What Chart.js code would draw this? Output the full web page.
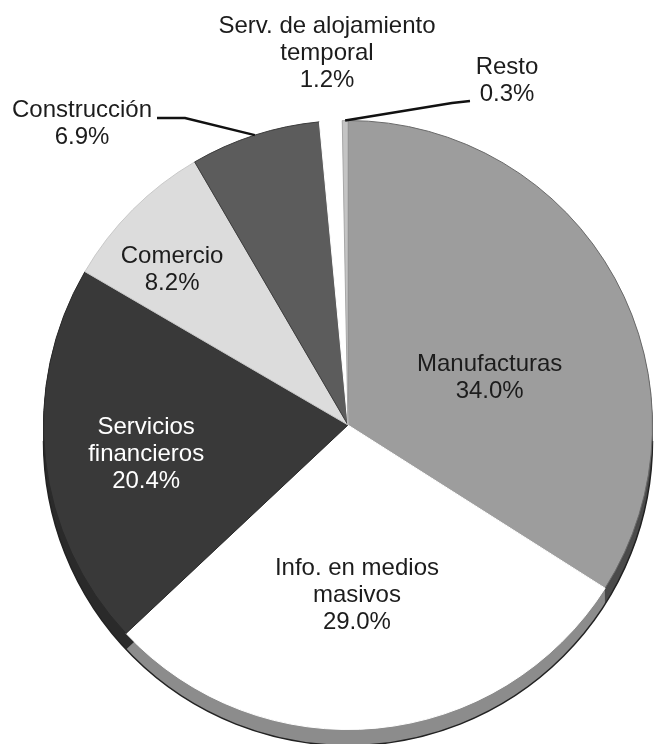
<!DOCTYPE html>
<html>
<head>
<meta charset="utf-8">
<script src="https://cdn.jsdelivr.net/npm/chart.js@4.4.1/dist/chart.umd.min.js"></script>
<style>
  html, body { margin: 0; padding: 0; background: #fff; }
  #wrap { width: 659px; height: 744px; }
</style>
</head>
<body>
<div id="wrap"><canvas id="pieChart" width="659" height="744"></canvas></div>
<script>
// data, clockwise from 12 o'clock
const sectors = ['Manufacturas', 'Info. en medios masivos', 'Servicios financieros', 'Comercio',
                 'Construcción', 'Serv. de alojamiento temporal', 'Resto'];
const shares = [34.0, 29.0, 20.4, 8.2, 6.9, 1.2, 0.3];
const labelLines = [['Manufacturas'], ['Info. en medios', 'masivos'], ['Servicios', 'financieros'],
                    ['Comercio'], ['Construcción'], ['Serv. de alojamiento', 'temporal'], ['Resto']];

// styling
const faceColors = ['#9d9d9d', '#ffffff', '#393939', '#dcdcdc', '#5c5c5c', '#ffffff', '#c4c4c4'];
const edgeColors = ['#6a6a6a', '#ffffff', '#2a2a2a', '#c8c8c8', '#3c3c3c', '#ffffff', '#a8a8a8'];
const sideColors = ['#4a4a4a', '#8c8c8c', '#2a2a2a', '#999999', '#3c3c3c', '#bbbbbb', '#888888'];
const textColors = ['#1c1c1c', '#1c1c1c', '#ffffff', '#1c1c1c', '#1c1c1c', '#1c1c1c', '#1c1c1c'];
const DEPTH = 16;
const FONT = '24px "Liberation Sans", Arial, sans-serif';
const LINE_H = 27;

// where each label goes: inside labels are polar (angle shift in deg, radius fraction),
// outside ones get a text centre and a leader line bend
const labelPlace = [
  { shift: 10.5, frac: 0.49 },
  { shift: 2.4, frac: 0.56 },
  { shift: -1.9, frac: 0.67 },
  { shift: -3.6, frac: 0.77 },
  { text: [82, 124], line: [[185, 118], [157, 118]] },
  { text: [327, 53] },
  { text: [507, 81], line: [[452, 103], [470, 101]] }
];

const depthPlugin = {
  id: 'depth',
  beforeDatasetsDraw(chart) {
    const ctx = chart.ctx;
    const arcs = chart.getDatasetMeta(0).data;
    ctx.save();
    arcs.forEach((arc, i) => {
      const p = arc.getProps(['x', 'y', 'startAngle', 'endAngle', 'outerRadius'], true);
      ctx.fillStyle = sideColors[i];
      for (let d = 1; d <= DEPTH; d++) {
        ctx.beginPath();
        ctx.moveTo(p.x, p.y + d);
        ctx.arc(p.x, p.y + d, p.outerRadius, p.startAngle, p.endAngle);
        ctx.closePath();
        ctx.fill();
      }
    });
    const p0 = arcs[0].getProps(['x', 'y', 'outerRadius'], true);
    ctx.strokeStyle = '#222';
    ctx.lineWidth = 1.5;
    ctx.beginPath();
    ctx.arc(p0.x, p0.y + DEPTH, p0.outerRadius, 0, Math.PI);
    ctx.stroke();
    ctx.restore();
  }
};

const labelPlugin = {
  id: 'sliceLabels',
  afterDatasetsDraw(chart) {
    const ctx = chart.ctx;
    const arcs = chart.getDatasetMeta(0).data;
    ctx.save();
    ctx.font = FONT;
    ctx.textAlign = 'center';
    ctx.textBaseline = 'middle';
    arcs.forEach((arc, i) => {
      const p = arc.getProps(['x', 'y', 'startAngle', 'endAngle', 'outerRadius'], true);
      const place = labelPlace[i];
      const lines = labelLines[i].concat([shares[i].toFixed(1) + '%']);
      let cx, cy;
      if (place.frac !== undefined) {
        const a = (p.startAngle + p.endAngle) / 2 + place.shift * Math.PI / 180;
        cx = p.x + Math.cos(a) * p.outerRadius * place.frac;
        cy = p.y + Math.sin(a) * p.outerRadius * place.frac;
      } else {
        cx = place.text[0];
        cy = place.text[1];
        if (place.line) {
          const mid = (p.startAngle + p.endAngle) / 2;
          ctx.strokeStyle = '#111';
          ctx.lineWidth = 2.5;
          ctx.beginPath();
          ctx.moveTo(p.x + Math.cos(mid) * p.outerRadius, p.y + Math.sin(mid) * p.outerRadius);
          place.line.forEach(pt => ctx.lineTo(pt[0], pt[1]));
          ctx.stroke();
        }
      }
      ctx.fillStyle = textColors[i];
      lines.forEach((t, k) => {
        ctx.fillText(t, cx, cy + (k - (lines.length - 1) / 2) * LINE_H);
      });
    });
    ctx.restore();
  }
};

new Chart(document.getElementById('pieChart'), {
  type: 'pie',
  data: {
    labels: sectors,
    datasets: [{
      data: shares,
      backgroundColor: faceColors,
      borderColor: edgeColors,
      borderWidth: 1,
      hoverOffset: 0,
      offset: 0
    }]
  },
  options: {
    responsive: false,
    animation: false,
    events: [],
    rotation: 0,
    layout: { padding: { left: 43, right: 6, top: 120, bottom: 14 } },
    plugins: {
      legend: { display: false },
      tooltip: { enabled: false }
    }
  },
  plugins: [depthPlugin, labelPlugin]
});
</script>
</body>
</html>
